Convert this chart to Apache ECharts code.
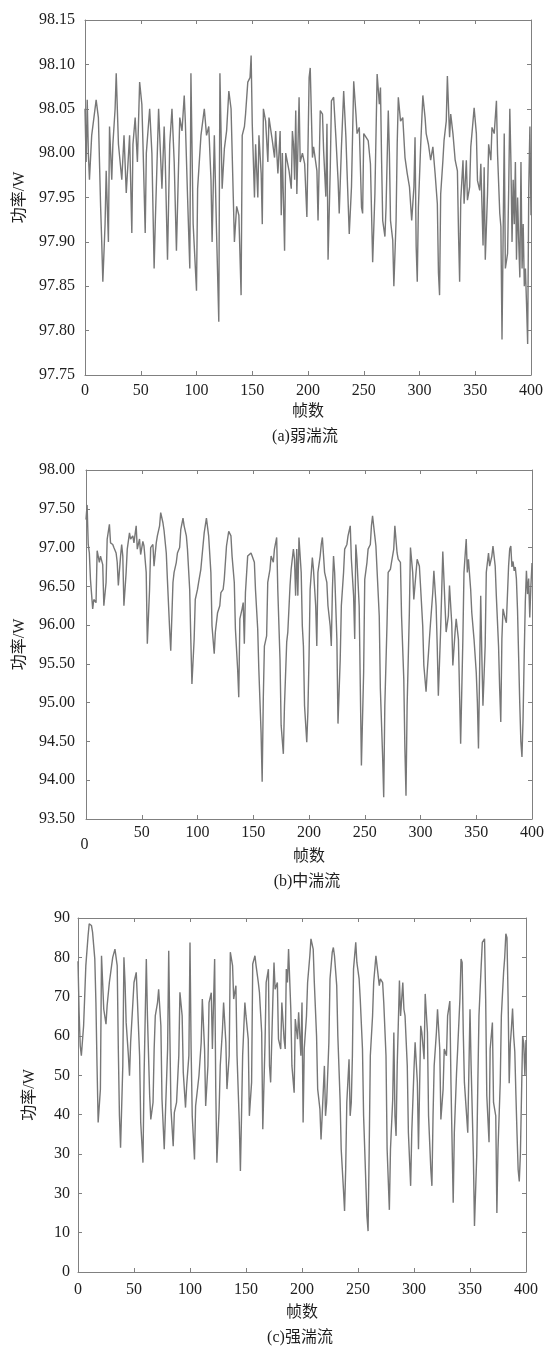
<!DOCTYPE html>
<html>
<head>
<meta charset="utf-8">
<script src="https://cdn.jsdelivr.net/npm/echarts@6/dist/echarts.min.js"></script>
<style>
  html, body { margin: 0; padding: 0; background: #fff; }
  #chart { width: 548px; height: 1348px; }
</style>
</head>
<body>
<div id="chart"></div>
<script>
// ---- data: [frame, power W] ----
const weakTurb = [
  [0,98.05],[1,97.99],[2,98.06],[3,98.00],[4,97.97],[6,98.02],[8,98.04],[10,98.06],[12,98.04],[14,97.94],
  [15,97.90],[16,97.855],[18,97.92],[19,97.98],[21,97.90],[22,98.03],[24,97.97],[25,98.01],[27,98.05],[28,98.09],
  [30,98.01],[33,97.97],[35,98.02],[37,97.955],[40,98.02],[42,97.91],[43,98.01],[45,98.04],[47,97.99],[49,98.08],
  [51,98.055],[52,98.01],[54,97.91],[55,98.00],[58,98.05],[60,98.00],[62,97.87],[63,97.92],[66,98.05],[69,97.96],
  [71,98.03],[72,97.99],[74,97.88],[76,98.01],[78,98.05],[80,97.99],[82,97.89],[85,98.04],[87,98.025],[89,98.065],
  [90,98.035],[92,97.95],[94,97.87],[95,98.09],[97,97.92],[100,97.845],[101,97.96],[104,98.02],[107,98.05],[109,98.02],
  [111,98.03],[113,97.97],[114,97.90],[116,98.02],[118,97.91],[120,97.81],[121,98.09],[123,97.96],[125,98.005],[127,98.025],
  [129,98.07],[131,98.05],[133,97.95],[134,97.90],[136,97.94],[138,97.93],[140,97.84],[141,98.02],[143,98.03],[144,98.044],
  [146,98.08],[148,98.085],[149,98.11],[150,98.033],[152,97.95],[153,98.01],[155,97.95],[156,98.02],[158,97.977],[159,97.92],
  [160,98.05],[162,98.036],[164,97.99],[165,98.04],[168,98.014],[170,97.995],[171,98.025],[173,97.977],[175,98.025],[176,97.93],
  [177,98.00],[179,97.89],[180,98.00],[183,97.98],[185,97.96],[186,98.025],[187,98.01],[188,97.97],[189,98.048],[190,97.954],
  [192,98.063],[193,97.99],[195,98.00],[197,97.988],[199,97.928],[201,98.085],[202,98.096],[204,97.995],[205,98.007],[208,97.98],
  [209,97.924],[211,98.048],[213,98.044],[214,98.003],[216,97.951],[217,98.033],[218,97.88],[220,97.984],[221,98.059],[223,98.063],
  [225,98.018],[227,97.969],[228,97.932],[230,98.007],[232,98.07],[234,98.018],[235,97.98],[237,97.909],[239,97.962],[241,98.081],
  [243,98.044],[244,98.022],[246,98.029],[248,97.939],[249,97.932],[250,98.022],[252,98.018],[254,98.014],[256,97.988],[258,97.877],
  [260,97.954],[262,98.089],[264,98.055],[265,98.074],[266,97.992],[267,97.924],[269,97.906],[270,97.939],[272,98.048],[273,98.00],
  [274,97.924],[276,97.902],[277,97.85],[279,97.924],[280,98.01],[281,98.063],[283,98.036],[285,98.04],[287,97.995],[289,97.977],
  [291,97.962],[293,97.924],[295,97.962],[296,98.018],[297,97.895],[298,97.855],[299,97.939],[301,98.007],[303,98.065],[305,98.04],
  [306,98.022],[308,98.01],[310,97.992],[312,98.007],[314,97.977],[316,97.943],[317,97.865],[318,97.84],[319,97.954],[321,97.992],
  [322,98.014],[324,98.036],[325,98.087],[327,98.018],[328,98.044],[330,98.022],[332,97.992],[334,97.98],[335,97.909],[336,97.855],
  [337,97.947],[339,97.992],[340,97.943],[342,97.992],[343,97.947],[345,97.962],[346,98.007],[348,98.036],[349,98.051],[351,98.022],
  [352,97.969],[354,97.958],[355,97.988],[357,97.896],[358,97.984],[359,97.88],[361,97.954],[362,98.01],[364,97.992],[365,98.029],
  [367,98.022],[369,98.059],[370,97.999],[372,97.932],[373,97.917],[374,97.79],[375,97.906],[376,98.022],[377,97.87],[379,97.887],
  [380,97.96],[381,98.05],[382,97.99],[383,97.90],[384,97.97],[385,97.92],[386,97.99],[387,97.88],[388,97.95],[389,97.90],
  [390,97.86],[391,97.99],[392,97.87],[393,97.92],[394,97.85],[395,97.87],[396,97.83],[397,97.785],[398,97.96],[399,98.03],
  [400,97.93]
];

const mediumTurb = [
  [0,97.36],[1,97.55],[2,97.04],[3,96.93],[4,96.59],[6,96.21],[7,96.33],[9,96.29],[10,96.96],[12,96.81],
  [13,96.89],[15,96.78],[16,96.25],[18,96.55],[19,97.11],[21,97.30],[22,97.06],[24,97.04],[25,97.00],[27,96.93],
  [28,96.81],[29,96.51],[31,96.89],[32,97.04],[33,96.89],[34,96.25],[36,96.68],[37,96.98],[39,97.19],[40,97.11],
  [42,97.15],[43,97.06],[45,97.28],[46,96.98],[48,97.11],[49,96.91],[51,97.08],[52,97.02],[54,96.68],[55,95.76],
  [57,96.46],[58,97.00],[60,97.04],[61,96.76],[63,97.06],[64,97.15],[66,97.28],[67,97.45],[69,97.32],[70,97.22],
  [72,96.93],[73,96.59],[75,95.95],[76,95.67],[78,96.55],[79,96.68],[81,96.81],[82,96.93],[84,97.00],[85,97.23],
  [87,97.38],[88,97.28],[90,97.15],[91,96.98],[93,96.46],[94,95.82],[95,95.24],[97,95.82],[98,96.33],[100,96.46],
  [101,96.55],[103,96.72],[106,97.19],[108,97.38],[110,97.15],[112,96.68],[113,95.99],[115,95.63],[116,95.91],[118,96.16],
  [120,96.25],[121,96.42],[123,96.46],[124,96.59],[126,97.02],[128,97.21],[130,97.15],[131,96.89],[133,96.55],[134,95.95],
  [136,95.43],[137,95.07],[138,96.08],[140,96.21],[141,96.29],[142,95.76],[143,96.42],[145,96.89],[146,96.89],[148,96.93],
  [149,96.89],[151,96.81],[152,96.46],[154,95.95],[155,95.43],[157,94.62],[158,93.98],[159,95.05],[160,95.73],[162,95.86],
  [163,96.55],[165,96.72],[166,96.89],[168,96.81],[169,96.98],[171,97.13],[172,96.46],[174,95.56],[175,94.71],[177,94.34],
  [178,94.96],[180,95.78],[181,95.91],[183,96.51],[184,96.72],[186,96.98],[187,96.85],[188,96.38],[189,96.98],[190,96.38],
  [191,97.13],[193,96.68],[194,95.99],[195,95.73],[196,94.96],[198,94.49],[199,94.88],[200,95.56],[201,96.46],[203,96.87],
  [204,96.72],[206,96.25],[207,95.73],[208,96.68],[210,96.89],[211,97.04],[212,97.13],[214,96.68],[216,96.55],[217,96.25],
  [219,95.99],[220,95.73],[221,96.46],[222,96.89],[223,96.68],[225,95.82],[226,94.73],[228,95.56],[229,96.25],[231,96.68],
  [232,96.98],[234,97.04],[235,97.15],[237,97.28],[238,96.85],[240,96.38],[241,95.82],[242,97.04],[243,96.85],[245,96.25],
  [246,95.22],[247,94.19],[249,95.39],[250,96.59],[252,96.81],[253,96.98],[255,97.04],[256,97.28],[257,97.41],[259,97.15],
  [260,97.02],[261,96.72],[263,96.12],[264,95.18],[266,94.32],[267,93.78],[268,94.96],[270,96.03],[271,96.68],[273,96.72],
  [274,96.81],[276,96.98],[277,97.28],[279,96.93],[280,96.85],[282,96.81],[283,96.12],[285,95.31],[286,94.41],[287,93.80],
  [288,94.96],[290,96.16],[291,97.00],[293,96.68],[294,96.33],[296,96.68],[297,96.85],[299,96.76],[300,96.51],[302,95.99],
  [303,95.48],[305,95.14],[306,95.39],[308,95.82],[309,96.03],[311,96.42],[312,96.70],[314,96.25],[315,95.73],[316,95.09],
  [318,95.91],[319,96.42],[320,96.95],[322,96.25],[323,95.91],[325,96.12],[326,96.51],[328,96.03],[329,95.48],[331,95.91],
  [332,96.08],[334,95.82],[335,95.14],[336,94.47],[338,95.82],[339,96.68],[341,97.11],[342,96.68],[343,96.85],[345,96.46],
  [346,96.16],[348,95.82],[350,95.39],[351,95.01],[352,94.41],[353,95.39],[354,96.38],[355,95.61],[356,94.96],[358,95.73],
  [359,96.68],[361,96.93],[362,96.76],[364,96.89],[365,97.02],[367,96.76],[368,96.38],[370,95.73],[371,95.18],[372,94.75],
  [373,95.82],[374,96.21],[376,96.08],[377,96.03],[379,96.76],[380,96.98],[381,97.02],[382,96.75],[383,96.82],[384,96.70],
  [385,96.75],[386,96.60],[387,96.20],[388,95.60],[389,95.00],[390,94.50],[391,94.30],[392,94.80],[393,95.60],[394,96.30],
  [395,96.70],[396,96.40],[397,96.60],[398,96.10],[399,96.50],[400,96.80]
];

const strongTurb = [
  [0,79],[1,66],[2,57.5],[3,55],[5,62.6],[6,70.2],[7,77.9],[9,85.5],[10,88.5],[12,88.1],
  [13,86.4],[15,79.6],[16,68.5],[17,52.4],[18,38],[20,46.5],[21,80.4],[22,73.6],[23,66.8],[25,63],
  [26,67.7],[28,73.6],[30,77.9],[31,80],[33,82.1],[35,77.9],[36,56.7],[37,39.7],[38,31.6],[40,52.4],
  [41,80],[42,73.6],[43,63.4],[45,55],[46,49.9],[47,58.4],[49,68.5],[50,73.6],[52,76.2],[53,69.4],
  [55,55],[56,38],[58,27.8],[59,49.9],[61,79.6],[62,65.1],[64,44.8],[65,38.8],[67,43.1],[68,56.7],
  [69,65.1],[71,68.5],[72,71.9],[74,62.6],[75,43.9],[77,31.2],[78,39.7],[80,56.7],[81,81.7],[82,60.9],
  [83,41.4],[85,32],[86,40.5],[88,43.1],[90,55],[91,71.1],[93,65.1],[94,50.7],[96,41.8],[97,47.3],
  [99,55],[100,83.8],[101,56.7],[102,39.7],[104,28.6],[105,42.2],[107,47.3],[108,49.9],[110,58.4],[111,69.4],
  [113,56.7],[114,42.2],[116,52.4],[117,68.5],[119,71],[120,56.7],[122,79.6],[123,46.5],[124,27.8],[126,41.4],
  [127,52.4],[129,61.7],[130,68.5],[132,58.4],[133,46.5],[135,55],[136,81.3],[138,77.9],[139,69.4],[141,72.8],
  [142,55],[144,38],[145,25.7],[146,39.7],[147,55],[149,68.5],[150,65.1],[152,59.2],[153,39.7],[155,48.2],
  [156,78.3],[158,80.4],[159,77.9],[161,73.6],[162,71.1],[164,60.9],[165,36.3],[167,58.4],[168,73.6],[170,77],
  [171,52.4],[172,48.2],[174,69.4],[175,78.7],[176,71.9],[178,73.6],[179,59.2],[181,56.7],[182,68.5],[184,59.2],
  [185,56.7],[186,77],[187,73.6],[188,82.1],[190,66.8],[191,52.4],[193,45.6],[194,64.3],[196,59.2],[197,66],
  [199,55],[200,68.5],[201,38],[202,56.7],[204,65.1],[205,73.6],[207,80.4],[208,84.7],[210,82.1],[211,73.6],
  [213,60],[214,46.5],[216,41.4],[217,33.7],[218,39.7],[220,52.4],[221,39.7],[222,43.1],[224,58.4],[225,74.5],
  [227,81.3],[228,82.5],[229,80.4],[231,72.8],[232,60],[234,43.9],[235,31.2],[237,21],[238,15.5],[239,26.1],
  [240,43.1],[242,54.1],[243,39.7],[244,43.1],[245,55],[246,77],[248,83.8],[249,78.7],[251,74.5],[252,69.4],
  [254,56.7],[255,39.7],[257,22.7],[258,14.2],[259,10.4],[260,31.2],[261,55],[263,65.1],[264,73.6],[266,80.4],
  [267,77.9],[269,72.8],[270,74.5],[272,73.6],[273,68.5],[275,55],[276,31.2],[278,15.8],[279,31.2],[281,43.9],
  [282,60.9],[283,39.7],[284,34.6],[285,52.4],[287,74.1],[288,65.1],[290,73.6],[291,66.8],[292,65.1],[294,52.4],
  [295,35.4],[297,21.9],[298,35.4],[300,51.6],[301,58.4],[303,48.2],[304,31.2],[306,62.6],[307,60.9],[309,54.1],
  [310,70.7],[312,60.9],[313,39.7],[315,26.1],[316,21.9],[317,39.7],[318,52.4],[320,60.9],[321,66.8],[323,56.7],
  [324,38.8],[326,46.5],[327,56.7],[329,55],[330,65.1],[332,68.9],[333,48.2],[335,17.6],[336,35.4],[338,50.7],
  [339,56.7],[341,69.4],[342,79.6],[343,78.7],[344,60.9],[345,48.2],[347,39.7],[348,35.4],[350,66.8],[351,52.4],
  [353,29.5],[354,11.7],[356,29.5],[357,48.2],[358,65.1],[360,77.9],[361,83.8],[363,84.7],[364,69.4],[365,44.8],
  [367,33],[368,56.7],[370,63.4],[371,43.1],[373,39.7],[374,15],[375,31.2],[377,48.2],[378,65.1],[380,76.2],
  [381,80],[382,86],[383,85],[384,70],[385,48],[386,58],[387,62],[388,67],[389,60],[390,56],
  [391,45],[392,35],[393,26],[394,23],[395,30],[396,45],[397,60],[398,58],[399,50],[400,59]
];

// tick labels (panel c prints "30" twice in the source figure)
const yTicksC = ['0', '10', '30', '30', '40', '50', '60', '70', '80', '90'];
const captions = ['(a)弱湍流', '(b)中湍流', '(c)强湍流'];

const FONT = "'Liberation Serif', 'Noto Sans CJK SC', serif";
const TEXT = '#1e1e1e';
const FRAME = '#808080';
const LINE = '#777777';

// panel layout
const panels = [
    { data: weakTurb, grid: { left: 85, top: 20, width: 446, height: 355 },
      yMin: 97.75, yMax: 98.15, yStep: 0.05, fmt: v => v.toFixed(2),
      xMargin: 8, xNameGap: 29, yMargin: 10, yNameGap: 57, cap: [305, 437] },
    { data: mediumTurb, grid: { left: 86, top: 470, width: 446, height: 349 },
      yMin: 93.5, yMax: 98, yStep: 0.5, fmt: v => v.toFixed(2),
      xMargin: 6, xNameGap: 30, yMargin: 11, yNameGap: 58, cap: [307, 882], zeroLow: true },
    { data: strongTurb, grid: { left: 78, top: 918, width: 448, height: 354 },
      yMin: 0, yMax: 90, yStep: 10, fmt: v => yTicksC[Math.round(v / 10)],
      xMargin: 10, xNameGap: 33, yMargin: 8, yNameGap: 40, cap: [300, 1338] },
];

const grids = [], xAxes = [], yAxes = [], series = [], graphics = [];
const labelStyle = { color: TEXT, fontSize: 16, fontFamily: FONT };

panels.forEach((p, i) => {
    grids.push(p.grid);
    const tick = { inside: true, length: 4, lineStyle: { color: FRAME } };
    const line = { show: true, onZero: false, lineStyle: { color: FRAME, width: 1 } };

    xAxes.push({
        gridIndex: i, type: 'value', min: 0, max: 400, interval: 50,
        axisLine: line, axisTick: tick, splitLine: { show: false },
        axisLabel: Object.assign({}, labelStyle, {
            margin: p.xMargin,
            formatter: v => (p.zeroLow && v === 0) ? '{z|0}' : String(v),
            rich: { z: { fontSize: 16, fontFamily: FONT, color: TEXT, padding: [12, 3, 0, 0] } },
        }),
        name: '帧数', nameLocation: 'middle', nameGap: p.xNameGap, nameMoveOverlap: false,
        nameTextStyle: labelStyle,
    });
    // mirrored top edge
    xAxes.push({
        gridIndex: i, type: 'value', position: 'top', min: 0, max: 400, interval: 50,
        axisLine: line, axisTick: tick, axisLabel: { show: false }, splitLine: { show: false },
    });

    yAxes.push({
        gridIndex: i, type: 'value', min: p.yMin, max: p.yMax, interval: p.yStep,
        axisLine: line, axisTick: tick, splitLine: { show: false },
        axisLabel: Object.assign({}, labelStyle, { margin: p.yMargin, formatter: p.fmt }),
        name: '功率/W', nameLocation: 'middle', nameGap: p.yNameGap, nameMoveOverlap: false,
        nameTextStyle: labelStyle,
    });
    // mirrored right edge
    yAxes.push({
        gridIndex: i, type: 'value', position: 'right', min: p.yMin, max: p.yMax, interval: p.yStep,
        axisLine: line, axisTick: tick, axisLabel: { show: false }, splitLine: { show: false },
    });

    series.push({
        type: 'line',
        xAxisIndex: i * 2,
        yAxisIndex: i * 2,
        data: p.data,
        symbol: 'none',
        lineStyle: { color: LINE, width: 1.4 },
    });

    graphics.push({
        type: 'text', x: p.cap[0], y: p.cap[1],
        style: { text: captions[i], fill: TEXT, font: '16px ' + FONT, align: 'center', verticalAlign: 'middle' },
    });
});

const chart = echarts.init(document.getElementById('chart'));
chart.setOption({
    backgroundColor: '#fff',
    animation: false,
    grid: grids,
    xAxis: xAxes,
    yAxis: yAxes,
    series,
    graphic: graphics,
});
</script>
</body>
</html>
